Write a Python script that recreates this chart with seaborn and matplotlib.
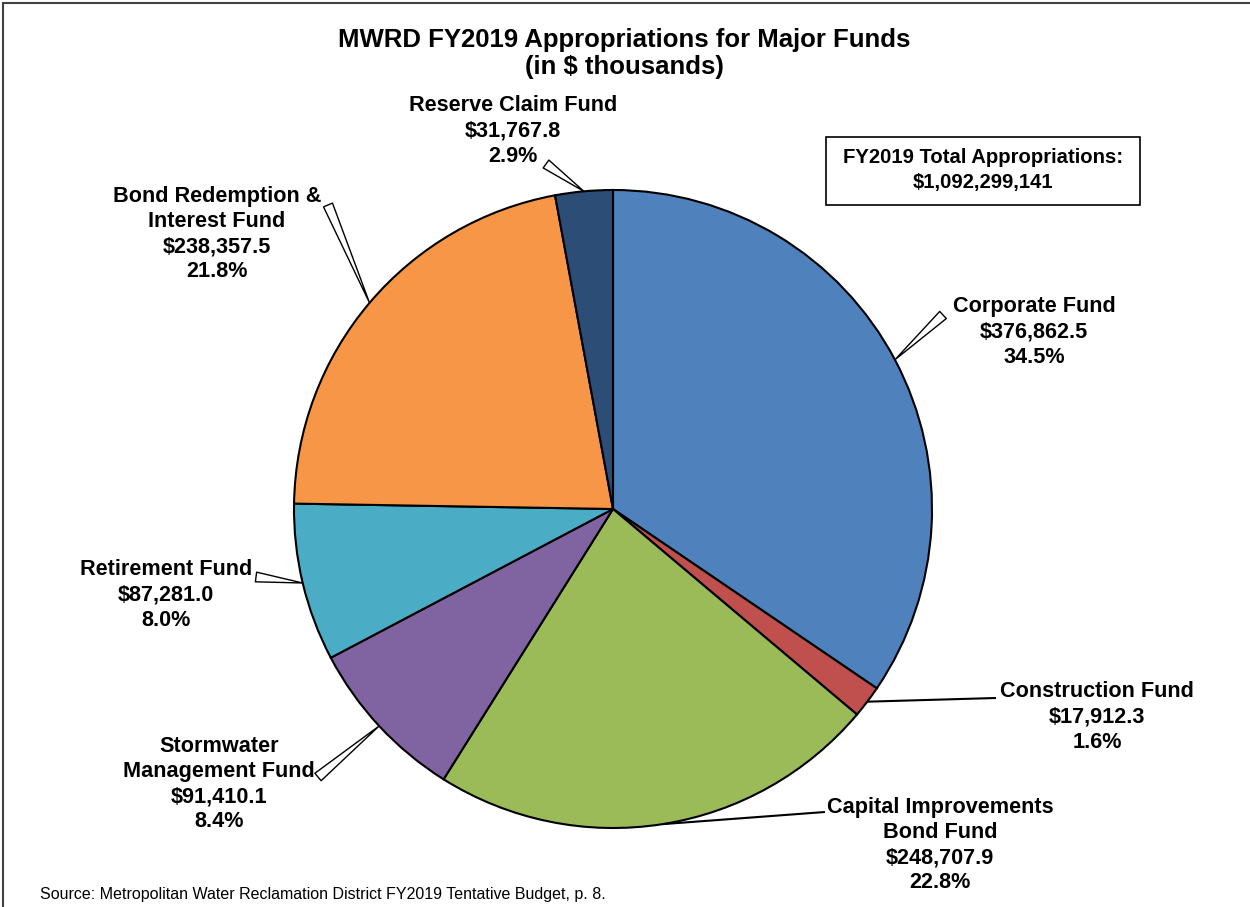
import numpy as np
import matplotlib
matplotlib.use("Agg")
import matplotlib.pyplot as plt
import seaborn as sns
from matplotlib.lines import Line2D
from matplotlib.patches import Rectangle

# ---- data ----
funds = ["Corporate Fund", "Construction Fund", "Capital Improvements\nBond Fund",
         "Stormwater\nManagement Fund", "Retirement Fund",
         "Bond Redemption &\nInterest Fund", "Reserve Claim Fund"]
values = [376862.5, 17912.3, 248707.9, 91410.1, 87281.0, 238357.5, 31767.8]
colors = ["#4F81BD", "#C0504D", "#9BBB59", "#8064A2", "#4BACC6", "#F79646", "#2C4D75"]
title = "MWRD FY2019 Appropriations for Major Funds\n(in $ thousands)"
total_text = "FY2019 Total Appropriations:\n$1,092,299,141"
source = "Source: Metropolitan Water Reclamation District FY2019 Tentative Budget, p. 8."

sns.set_style("white")
plt.rcParams['font.family'] = ['Liberation Sans', 'DejaVu Sans']
plt.rcParams['text.parse_math'] = False
plt.rcParams['text.color'] = 'black'

W, H = 1250, 907
fig = plt.figure(figsize=(W / 100, H / 100), dpi=100)
ax = fig.add_axes([0, 0, 1, 1])

def Y(y):
    return H - y

cx, cy, R = 613, Y(509), 319
palette = sns.color_palette(colors)
wedges, _ = ax.pie(values, colors=palette, startangle=90, counterclock=False,
                   radius=R, center=(cx, cy), frame=True,
                   wedgeprops=dict(edgecolor="black", linewidth=1.5))
ax.set_xlim(0, W)
ax.set_ylim(0, H)
ax.set_aspect('equal')
ax.axis('off')

total = sum(values)
# label layout: (text center x, text center y, leader end x, leader end y, style)
layout = [
    (1034, 332, 943, 315, "wedge"),
    (1097, 717, 996, 698, "line"),
    (940, 845, 825, 812, "line"),
    (219, 784, 318, 777, "wedge"),
    (166, 595, 256, 577, "wedge"),
    (217, 234, 328, 205, "wedge"),
    (513, 131, 546, 164, "wedge"),
]

for w, name, v, (tx, ty, lx, ly, style) in zip(wedges, funds, values, layout):
    mid = np.deg2rad((w.theta1 + w.theta2) / 2)
    px, py = cx + R * np.cos(mid), cy + R * np.sin(mid)
    label = f"{name}\n${v:,.1f}\n{v / total * 100:.1f}%"
    ax.text(tx, Y(ty), label, ha="center", va="center", fontsize=15.6,
            fontweight="bold", linespacing=1.26)
    if style == "line":
        ax.plot([px, lx], [py, Y(ly)], color="black", lw=1.5, solid_capstyle="butt")
    else:
        ax.annotate("", xy=(px, py), xytext=(lx, Y(ly)),
                    arrowprops=dict(arrowstyle="wedge,tail_width=0.7,shrink_factor=0.5",
                                    fc="white", ec="black", lw=1.0,
                                    shrinkA=0, shrinkB=0))

fig.text(624 / W, 1 - 53.5 / H, title, ha="center", va="center", fontsize=18.5,
         fontweight="bold", linespacing=1.19)

ax.add_patch(Rectangle((826, Y(205)), 1140 - 826, 205 - 137, fill=False,
                       edgecolor="black", lw=1.2))
ax.text(983, Y(170), total_text, ha="center", va="center", fontsize=14.6,
        fontweight="bold", linespacing=1.37)

fig.text(40 / W, 1 - 895 / H, source, ha="left", va="center", fontsize=11.5)

fig.add_artist(Line2D([3 / W, 1], [1 - 3 / H, 1 - 3 / H], color="#404040", lw=1.5))
fig.add_artist(Line2D([3 / W, 3 / W], [0, 1 - 3 / H], color="#404040", lw=1.5))

fig.savefig("out.png", dpi=100)
